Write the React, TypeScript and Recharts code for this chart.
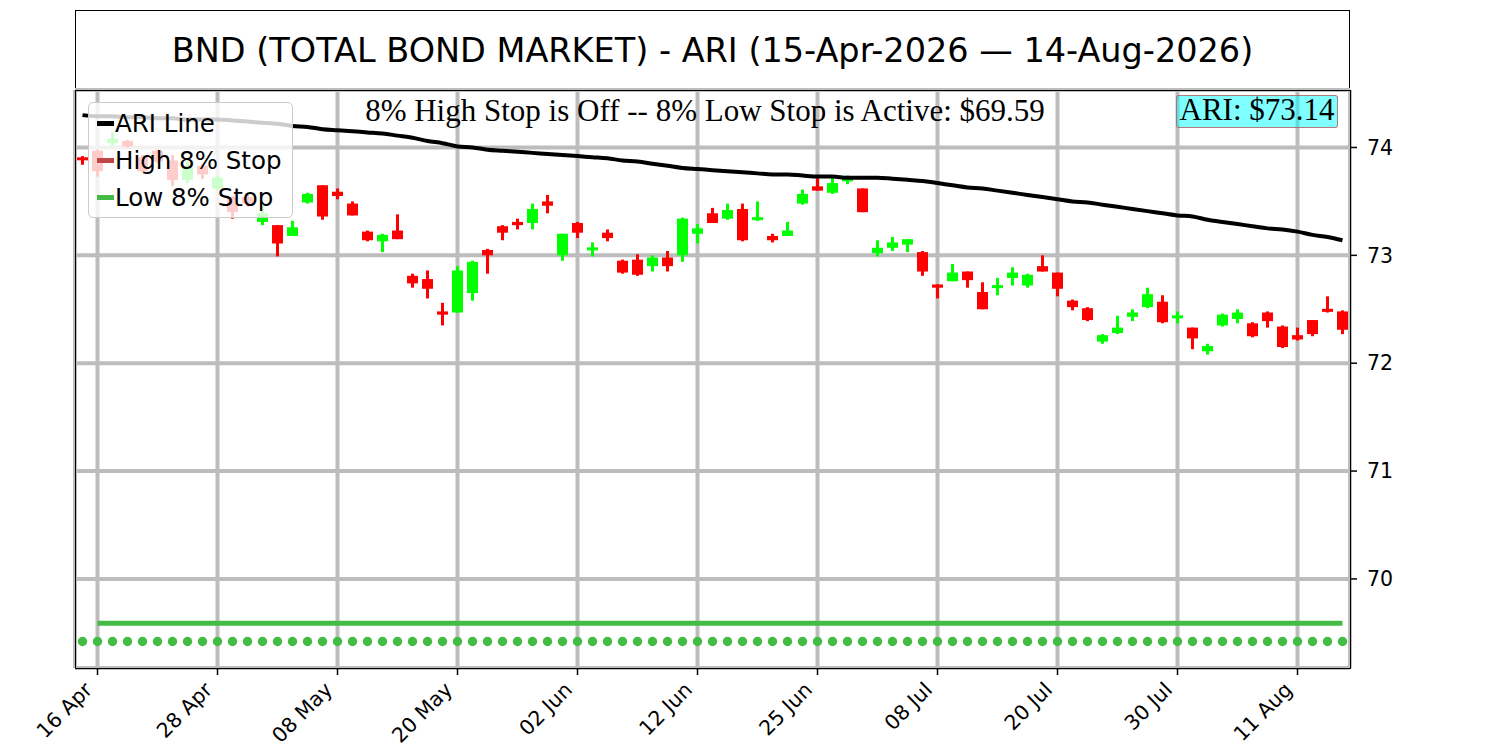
import React from "react";
import { ComposedChart, Bar, Line, XAxis, YAxis, CartesianGrid } from "recharts";

// trading days shown on the x axis (index 0 = 15 Apr)
const DATES = [
    "15 Apr", "16 Apr", "17 Apr", "20 Apr", "21 Apr", "22 Apr", "23 Apr", "24 Apr", "27 Apr", "28 Apr",
    "29 Apr", "30 Apr", "01 May", "04 May", "05 May", "06 May", "07 May", "08 May", "11 May", "12 May",
    "13 May", "14 May", "15 May", "18 May", "19 May", "20 May", "21 May", "22 May", "26 May", "27 May",
    "28 May", "29 May", "01 Jun", "02 Jun", "03 Jun", "04 Jun", "05 Jun", "08 Jun", "09 Jun", "10 Jun",
    "11 Jun", "12 Jun", "15 Jun", "16 Jun", "17 Jun", "18 Jun", "22 Jun", "23 Jun", "24 Jun", "25 Jun",
    "26 Jun", "29 Jun", "30 Jun", "01 Jul", "02 Jul", "06 Jul", "07 Jul", "08 Jul", "09 Jul", "10 Jul",
    "13 Jul", "14 Jul", "15 Jul", "16 Jul", "17 Jul", "20 Jul", "21 Jul", "22 Jul", "23 Jul", "24 Jul",
    "27 Jul", "28 Jul", "29 Jul", "30 Jul", "31 Jul", "03 Aug", "04 Aug", "05 Aug", "06 Aug", "07 Aug",
    "10 Aug", "11 Aug", "12 Aug", "13 Aug", "14 Aug",
];

const OPEN = [
    73.90, 73.97, 74.04, 74.06, 73.91, 73.97, 73.88, 73.70, 73.83, 73.62,
    73.54, 73.54, 73.31, 73.28, 73.18, 73.49, 73.65, 73.59, 73.48, 73.22,
    73.13, 73.23, 72.81, 72.78, 72.48, 72.47, 72.65, 73.05, 73.27, 73.31,
    73.30, 73.50, 73.00, 73.30, 73.05, 73.21, 72.95, 72.96, 72.90, 72.98,
    73.00, 73.20, 73.39, 73.34, 73.43, 73.33, 73.18, 73.18, 73.48, 73.64,
    73.58, 73.69, 73.62, 73.02, 73.07, 73.10, 73.03, 72.73, 72.76, 72.85,
    72.66, 72.70, 72.79, 72.72, 72.90, 72.84, 72.58, 72.51, 72.20, 72.28,
    72.43, 72.52, 72.57, 72.42, 72.33, 72.11, 72.35, 72.41, 72.37, 72.47,
    72.34, 72.26, 72.40, 72.50, 72.48,
];

const HIGH = [
    73.92, 73.98, 74.14, 74.07, 73.93, 73.98, 73.93, 73.87, 73.85, 73.74,
    73.55, 73.56, 73.48, 73.28, 73.32, 73.58, 73.65, 73.62, 73.50, 73.23,
    73.20, 73.38, 72.83, 72.86, 72.56, 72.90, 72.95, 73.06, 73.28, 73.34,
    73.48, 73.56, 73.20, 73.31, 73.12, 73.24, 72.96, 73.01, 73.00, 73.04,
    73.35, 73.29, 73.44, 73.48, 73.48, 73.50, 73.20, 73.31, 73.61, 73.74,
    73.72, 73.74, 73.62, 73.14, 73.17, 73.15, 73.04, 72.73, 72.92, 72.85,
    72.75, 72.79, 72.89, 72.83, 73.00, 72.84, 72.59, 72.52, 72.27, 72.44,
    72.50, 72.70, 72.63, 72.48, 72.33, 72.18, 72.46, 72.50, 72.38, 72.48,
    72.35, 72.33, 72.40, 72.62, 72.49,
];

const LOW = [
    73.84, 73.73, 74.02, 74.00, 73.77, 73.86, 73.64, 73.67, 73.71, 73.61,
    73.34, 73.45, 73.28, 72.99, 73.18, 73.48, 73.33, 73.52, 73.37, 73.13,
    73.03, 73.15, 72.70, 72.60, 72.35, 72.47, 72.58, 72.83, 73.14, 73.24,
    73.24, 73.39, 72.95, 73.16, 72.99, 73.13, 72.83, 72.81, 72.85, 72.85,
    72.94, 73.11, 73.30, 73.33, 73.13, 73.32, 73.12, 73.18, 73.47, 73.60,
    73.57, 73.66, 73.40, 72.99, 73.04, 73.03, 72.81, 72.60, 72.76, 72.70,
    72.50, 72.63, 72.72, 72.70, 72.85, 72.62, 72.49, 72.39, 72.18, 72.27,
    72.39, 72.51, 72.37, 72.37, 72.13, 72.08, 72.34, 72.37, 72.24, 72.33,
    72.14, 72.21, 72.25, 72.47, 72.27,
];

const CLOSE = [
    73.89, 73.78, 74.08, 74.01, 73.78, 73.87, 73.70, 73.81, 73.75, 73.72,
    73.40, 73.48, 73.39, 73.11, 73.26, 73.57, 73.36, 73.55, 73.37, 73.14,
    73.19, 73.15, 72.74, 72.69, 72.45, 72.86, 72.94, 73.00, 73.21, 73.28,
    73.43, 73.46, 73.20, 73.21, 73.07, 73.16, 72.84, 72.82, 72.98, 72.90,
    73.34, 73.25, 73.30, 73.42, 73.14, 73.35, 73.14, 73.23, 73.57, 73.60,
    73.67, 73.71, 73.40, 73.07, 73.12, 73.15, 72.85, 72.70, 72.84, 72.77,
    72.50, 72.72, 72.84, 72.82, 72.85, 72.69, 72.52, 72.40, 72.26, 72.33,
    72.47, 72.64, 72.38, 72.44, 72.23, 72.16, 72.45, 72.47, 72.25, 72.39,
    72.15, 72.22, 72.27, 72.48, 72.31,
];

const ARI = [
    74.30, 74.29, 74.29, 74.28, 74.28, 74.27, 74.27, 74.26, 74.26, 74.26,
    74.25, 74.24, 74.23, 74.22, 74.20, 74.19, 74.17, 74.16, 74.15, 74.14,
    74.13, 74.11, 74.09, 74.06, 74.04, 74.01, 74.00, 73.98, 73.97, 73.96,
    73.95, 73.94, 73.93, 73.92, 73.91, 73.90, 73.88, 73.87, 73.85, 73.83,
    73.81, 73.80, 73.79, 73.78, 73.77, 73.76, 73.75, 73.75, 73.74, 73.73,
    73.73, 73.72, 73.72, 73.72, 73.71, 73.70, 73.69, 73.67, 73.65, 73.63,
    73.62, 73.60, 73.58, 73.56, 73.54, 73.52, 73.50, 73.49, 73.47, 73.45,
    73.43, 73.41, 73.39, 73.37, 73.36, 73.33, 73.31, 73.29, 73.27, 73.25,
    73.24, 73.22, 73.19, 73.17, 73.14,
];

const LOW_STOP = 69.59; // active from 16 Apr on
const LOW_STOP_FROM = 1;
const STOP_DOTS = 69.42;

const X_TICKS = [1, 9, 17, 25, 33, 41, 49, 57, 65, 73, 81];
const Y_TICKS = [70, 71, 72, 73, 74];

const RED = "#ff0000";
const GREEN = "#00ff00";
const STOP_GREEN = "#44bb44";

const data = DATES.map((date, i) => ({
    idx: i,
    date,
    open: OPEN[i],
    high: HIGH[i],
    low: LOW[i],
    close: CLOSE[i],
    range: [LOW[i], HIGH[i]],
    ari: ARI[i],
    lowStop: i >= LOW_STOP_FROM ? LOW_STOP : null,
    dots: STOP_DOTS,
}));

const Candle = (props: any) => {
    const { x, y, width, height, payload } = props;
    const { open, close, high, low } = payload;
    const color = close >= open ? GREEN : RED;
    const cx = x + width / 2;
    const k = high > low ? height / (high - low) : 0;
    let top = y + (high - Math.max(open, close)) * k;
    let bottom = y + (high - Math.min(open, close)) * k;
    if (bottom - top < 3) {
        const mid = (top + bottom) / 2;
        top = mid - 1.5;
        bottom = mid + 1.5;
    }
    return (
        <g>
            <rect x={cx - 1.5} y={y} width={3} height={Math.max(height, 1)} fill={color} />
            <rect x={cx - 5.5} y={top} width={11} height={bottom - top} fill={color} />
        </g>
    );
};

const DateTick = (props: any) => {
    const { x, y, payload } = props;
    const tx = x - 4;
    const ty = y + 14;
    return (
        <text
            x={tx}
            y={ty}
            textAnchor="end"
            transform={`rotate(-45, ${tx}, ${ty})`}
            fontSize={20.5}
            fontFamily="DejaVu Sans"
            fill="#000"
        >
            {DATES[payload.value]}
        </text>
    );
};

const legendItems = [
    { label: "ARI Line", color: "#000000" },
    { label: "High 8% Stop", color: "#c04545" },
    { label: "Low 8% Stop", color: STOP_GREEN },
];

export default function App() {
    return (
        <div style={{ position: "absolute", left: 0, top: 0, width: 1500, height: 750, background: "#fff", fontFamily: "DejaVu Sans" }}>
            {/* title box */}
            <div
                style={{
                    position: "absolute", left: 75, top: 10, width: 1275, height: 81, boxSizing: "border-box",
                    border: "1.5px solid #000", display: "flex", alignItems: "center", justifyContent: "center",
                    fontSize: 33.5, color: "#000",
                }}
            >
                BND (TOTAL BOND MARKET) - ARI (15-Apr-2026 — 14-Aug-2026)
            </div>

            <ComposedChart width={1500} height={750} data={data} margin={{ top: 90, right: 70, bottom: 12, left: 75 }}>
                <CartesianGrid stroke="#bdbdbd" strokeWidth={4} />
                <XAxis
                    type="number"
                    dataKey="idx"
                    domain={[-0.5, 84.5]}
                    ticks={X_TICKS}
                    interval={0}
                    allowDataOverflow
                    height={70}
                    axisLine={false}
                    tickSize={7}
                    tickLine={{ stroke: "#000", strokeWidth: 1.5 }}
                    tick={<DateTick />}
                />
                <YAxis
                    orientation="right"
                    type="number"
                    domain={[69.174, 74.533]}
                    ticks={Y_TICKS}
                    allowDataOverflow
                    width={80}
                    axisLine={false}
                    tickSize={7}
                    tickMargin={10}
                    tickLine={{ stroke: "#000", strokeWidth: 1.5 }}
                    tick={{ fontSize: 20.5, fill: "#000", fontFamily: "DejaVu Sans" }}
                />
                <Bar dataKey="range" barSize={11} shape={<Candle />} isAnimationActive={false} />
                <Line type="monotone" dataKey="ari" stroke="#000" strokeWidth={4} dot={false} isAnimationActive={false} />
                <Line dataKey="lowStop" stroke={STOP_GREEN} strokeWidth={5} dot={false} isAnimationActive={false} />
                <Line
                    dataKey="dots"
                    stroke="none"
                    dot={{ r: 4.7, fill: STOP_GREEN, stroke: "none" }}
                    isAnimationActive={false}
                />
            </ComposedChart>

            {/* plot frame */}
            <div
                style={{
                    position: "absolute", left: 74.5, top: 89.5, width: 1276, height: 579, boxSizing: "border-box",
                    border: "1.5px solid #000", pointerEvents: "none",
                }}
            />

            {/* stop status */}
            <div
                style={{
                    position: "absolute", left: 705, top: 95, transform: "translateX(-50%)", whiteSpace: "nowrap",
                    fontFamily: "Liberation Serif", fontSize: 31, lineHeight: 1, color: "#000",
                }}
            >
                8% High Stop is Off -- 8% Low Stop is Active: $69.59
            </div>

            {/* current ARI value */}
            <div
                style={{
                    position: "absolute", left: 1176, top: 95, width: 162, height: 33, boxSizing: "border-box",
                    background: "rgba(0,255,255,0.5)", border: "1.5px solid rgba(190,90,90,0.8)", borderRadius: 3,
                    fontFamily: "Liberation Serif", fontSize: 31, lineHeight: "28px", textAlign: "center", color: "#000",
                    whiteSpace: "nowrap",
                }}
            >
                ARI: $73.14
            </div>

            {/* legend */}
            <div
                style={{
                    position: "absolute", left: 88, top: 102, width: 205, height: 116, boxSizing: "border-box",
                    background: "rgba(255,255,255,0.8)", border: "1px solid #cccccc", borderRadius: 5,
                    paddingTop: 2, paddingLeft: 8,
                }}
            >
                {legendItems.map((item) => (
                    <div key={item.label} style={{ display: "flex", alignItems: "center", height: 37 }}>
                        <div style={{ width: 17, height: 5, background: item.color, marginRight: 1 }} />
                        <span style={{ fontSize: 24.5, color: "#000", whiteSpace: "nowrap" }}>{item.label}</span>
                    </div>
                ))}
            </div>
        </div>
    );
}
